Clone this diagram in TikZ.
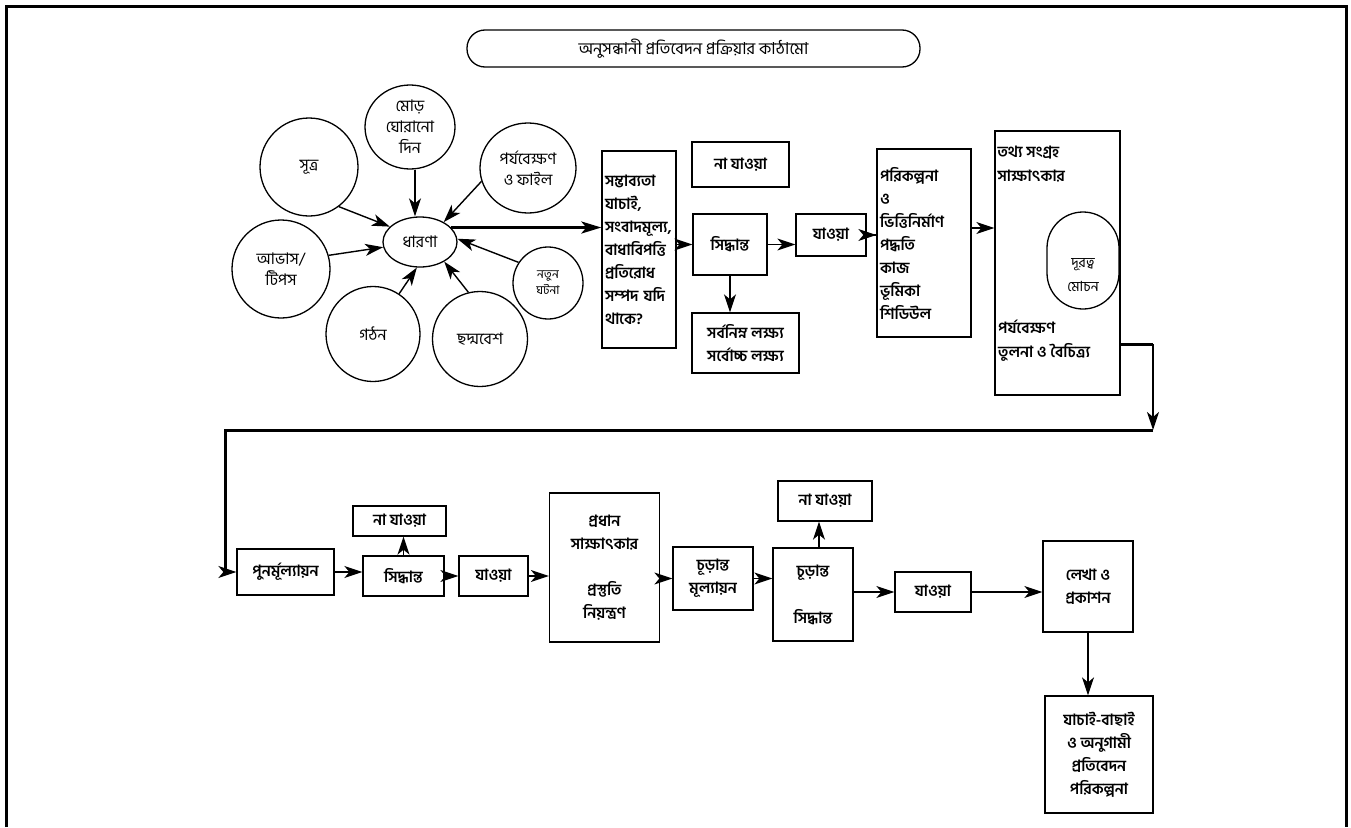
\documentclass[tikz,border=0pt]{standalone}
\usepackage{fontspec}
\newfontfamily\bn[Script=Bengali]{Hind Siliguri}
\usetikzlibrary{arrows.meta,shapes.geometric}
\tikzset{
  mybox/.style={draw, line width=1.3pt, inner sep=3pt, align=center,
    font=\bn\bfseries\fontsize{15.5}{23}\selectfont},
  boxtext/.style={inner sep=0pt, align=left,
    font=\bn\bfseries\fontsize{15.5}{24}\selectfont},
  mycirc/.style={draw, ellipse, line width=1.3pt, inner sep=1pt, align=center,
    font=\bn\fontsize{16}{21}\selectfont},
  myarr/.style={-{Stealth[length=18pt,width=12pt,inset=5pt]}, line width=1.4pt},
  thickline/.style={line width=3pt},
}
\begin{document}
\begin{tikzpicture}[x=1pt,y=-1pt]
\useasboundingbox (0,0) rectangle (1351,827);
% frame
\draw[thickline] (6,827) -- (6,6) -- (1346,6) -- (1346,827);
\node[draw, rounded corners=18, minimum width=453, minimum height=37, line width=1.3pt,
  font=\bn\fontsize{16.5}{18}\selectfont] (title) at (693.5,48.5)
  {অনুসন্ধানী প্রতিবেদন প্রক্রিয়ার কাঠামো};
% idea cluster
\node[mycirc, minimum width=74, minimum height=50] (dharona) at (420,242) {ধারণা};
\node[mycirc, minimum width=98, minimum height=98] (sutro) at (309,167) {সূত্র};
\node[mycirc, minimum width=90, minimum height=84] (mor) at (410,127) {মোড়\\ঘোরানো\\দিন};
\node[mycirc, minimum width=96, minimum height=90] (porjo) at (528,168) {পর্যবেক্ষণ\\ও ফাইল};
\node[mycirc, minimum width=98, minimum height=98] (abhas) at (281,269) {আভাস/\\টিপস};
\node[mycirc, minimum width=94, minimum height=95] (gothon) at (373,334) {গঠন};
\node[mycirc, minimum width=95, minimum height=95] (chhodmo) at (480,339) {ছদ্মবেশ};
\node[mycirc, minimum width=70, minimum height=72,
  font=\bn\fontsize{12}{16}\selectfont] (notun) at (548,283) {নতুন\\ঘটনা};
\draw[myarr] (sutro.-53) -- (dharona.153);
\draw[myarr] (abhas.16) -- (dharona.188);
\draw[myarr] ([xshift=5]mor.south) -- ([xshift=5]mor.south |- dharona.north);
\draw[myarr] (porjo.196) -- (dharona.40);
\draw[myarr] (notun.145) -- (dharona.5);
\draw[myarr] (chhodmo.104) -- (dharona.-39);
\draw[myarr] (gothon.57) -- (dharona.-97);
% upper row
\node[mybox, minimum width=74, minimum height=197, text width=68, align=left]
  (sam) at (639,249.5) {সম্ভাব্যতা\\যাচাই,\\সংবাদমূল্য,\\বাধাবিপত্তি\\প্রতিরোধ\\সম্পদ যদি\\থাকে?};
\node[mybox, minimum width=97, minimum height=45] (najao1) at (740.5,164.5) {না যাওয়া};
\node[mybox, minimum width=74, minimum height=61] (sid1) at (730,244.5) {সিদ্ধান্ত};
\node[mybox, minimum width=70, minimum height=42] (jaoa1) at (831,235) {যাওয়া};
\node[mybox, minimum width=107, minimum height=60] (sorbo) at (745.5,343) {সর্বনিম্ন লক্ষ্য\\সর্বোচ্চ লক্ষ্য};
\node[mybox, minimum width=94, minimum height=188, text width=88, align=left]
  (pori) at (924,243) {পরিকল্পনা\\ও\\ভিত্তিনির্মাণ\\পদ্ধতি\\কাজ\\ভূমিকা\\শিডিউল};
\node[mybox, minimum width=125, minimum height=264] (tothyo) at (1057.5,263) {};
\node[boxtext, anchor=north west] (tothyo1) at ([xshift=3,yshift=-15]tothyo.north west)
  {তথ্য সংগ্রহ\\সাক্ষাৎকার};
\node[boxtext, anchor=north west] (tothyo2) at (998,320) {পর্যবেক্ষণ\\তুলনা ও বৈচিত্র্য};
\node[draw, rounded corners=36, minimum width=72, minimum height=97, line width=1.3pt]
  (dur) at (1083,260.5) {};
\node[align=center, font=\bn\fontsize{14}{24}\selectfont] (durtext)
  at ([yshift=-15]dur.center) {দূরত্ব\\মোচন};
\draw[thickline, -{Stealth[length=20pt,width=12pt,inset=5pt]}]
  (dharona.25) -- (dharona.25 -| sam.west);
\draw[myarr] (sam.east |- sid1.west) -- (sid1.west);
\draw[myarr] (sid1.east) -- (sid1.east -| jaoa1.west);
\draw[myarr, shorten <=-9pt] (jaoa1.east) -- (jaoa1.east -| pori.west);
\draw[myarr] ([yshift=15]pori.east) -- ([yshift=15]pori.east -| tothyo.west);
\draw[myarr] (sid1.south) -- (sid1.south |- sorbo.north);
% loop back to the lower row
\coordinate (turn1) at (1153,344);
\coordinate (turn2) at (1153,430);
\coordinate (turn3) at (225,430);
\node[mybox, minimum width=97, minimum height=46] (punor) at (285.5,572) {পুনর্মূল্যায়ন};
\draw[thickline] (tothyo.east |- turn1) -- (turn1);
\draw[myarr] (turn1) -- (turn2);
\draw[thickline] (turn2) -- (turn3) -- (turn3 |- punor.west);
\draw[myarr] (turn3 |- punor.west) -- (punor.west);
% lower row
\node[mybox, minimum width=81, minimum height=40] (sid2) at (403.5,576) {সিদ্ধান্ত};
\node[mybox, minimum width=93, minimum height=30] (najao2) at (399.5,521) {না যাওয়া};
\node[mybox, minimum width=69, minimum height=40] (jaoa2) at (493.5,576) {যাওয়া};
\node[mybox, minimum width=110, minimum height=149] (prodhan) at (604.5,567.5)
  {প্রধান\\সাক্ষাৎকার\\[23pt]প্রস্তুতি\\নিয়ন্ত্রণ};
\node[mybox, minimum width=80, minimum height=63] (chur1) at (713,578.5) {চূড়ান্ত\\মূল্যায়ন};
\node[mybox, minimum width=80, minimum height=93] (chur2) at (813,594.5) {চূড়ান্ত\\[24pt]সিদ্ধান্ত};
\node[mybox, minimum width=94, minimum height=40] (najao3) at (825,501) {না যাওয়া};
\node[mybox, minimum width=76, minimum height=40] (jaoa3) at (933,592) {যাওয়া};
\node[mybox, minimum width=90, minimum height=91] (lekha) at (1088,586.5) {লেখা ও\\প্রকাশন};
\node[mybox, minimum width=108, minimum height=117] (jachai) at (1099,754.5)
  {যাচাই-বাছাই\\ও অনুগামী\\প্রতিবেদন\\পরিকল্পনা};
\draw[myarr] (punor.east) -- (punor.east -| sid2.west);
\draw[myarr] (sid2.north) -- (sid2.north |- najao2.south);
\draw[myarr] (sid2.east) -- (jaoa2.west);
\draw[myarr] (jaoa2.east) -- (jaoa2.east -| prodhan.west);
\draw[myarr] (chur1.west -| prodhan.east) -- (chur1.west);
\draw[myarr] (chur1.east) -- (chur1.east -| chur2.west);
\draw[myarr] ([xshift=6]chur2.north) -- ([xshift=6]chur2.north |- najao3.south);
\draw[myarr] (chur2.east |- jaoa3.west) -- (jaoa3.west);
\draw[myarr] (jaoa3.east) -- (jaoa3.east -| lekha.west);
\draw[myarr] (lekha.south) -- (lekha.south |- jachai.north);
\end{tikzpicture}
\end{document}
